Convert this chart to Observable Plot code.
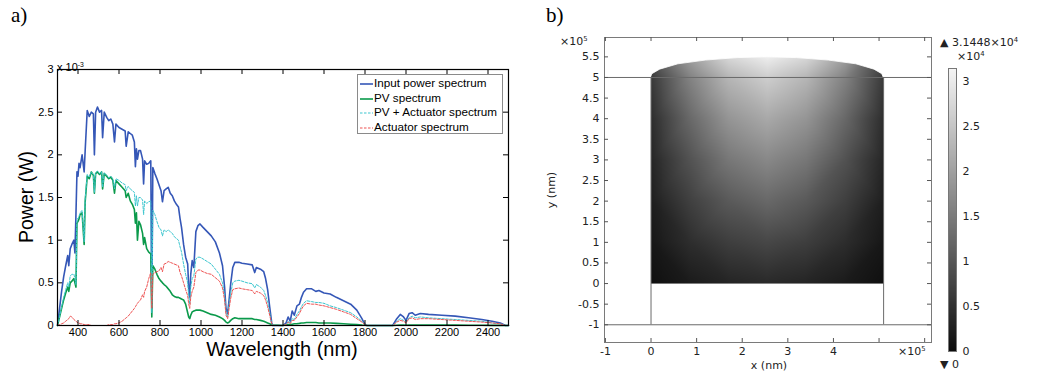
<!DOCTYPE html>
<html><head><meta charset="utf-8">
<script src="https://cdn.jsdelivr.net/npm/d3@7"></script>
<script src="https://cdn.jsdelivr.net/npm/@observablehq/plot@0.6"></script>
<style>
html,body{margin:0;padding:0;background:#fff}
body{width:1038px;height:376px;position:relative;overflow:hidden;font-family:"Liberation Sans",Arial,sans-serif}
.abs{position:absolute;white-space:nowrap}
.lbA{font-family:"Liberation Sans",Arial,sans-serif;color:#000}
.lbB{font-family:"DejaVu Sans",sans-serif;color:#222;font-size:11px;line-height:12px}
sup{font-size:0.62em;vertical-align:0;position:relative;top:-0.55em}
.legend{position:absolute;left:357px;top:74px;width:144px;height:58px;border:1px solid #8a8a8a;background:#fff;font-family:"Liberation Sans",Arial,sans-serif;font-size:11.7px;color:#000}
.legend div{position:absolute;left:2px;height:14px;line-height:14px}
.legend svg{vertical-align:middle;margin-right:1px}
</style></head><body>
<div id="pa" class="abs" style="left:0;top:0"></div>
<div id="pb" class="abs" style="left:520px;top:0"></div>
<div id="cb" class="abs" style="left:940px;top:60px"></div>
<script>
// ---------- Panel a: spectra (values in units of 10^-3 W) ----------
const wavelength = [
  300,310,320,330,340,350,355,362,370,380,385,
  390,395,400,405,410,420,430,435,445,455,465,475,480,486,
  495,505,515,520,528,540,550,560,570,578,585,600,
  615,630,635,645,655,665,675,680,685,690,697,705,715,720,
  725,735,745,755,760,765,775,785,795,805,812,820,830,
  840,850,860,870,880,890,898,905,915,925,935,940,945,
  950,957,965,975,985,995,1010,1030,1050,
  1070,1090,1105,1115,1122,1130,1137,1145,1155,1165,
  1185,1200,1225,1250,1262,1270,1290,1306,1315,1325,1335,1345,1350,
  1400,1415,1425,1435,1445,1455,1468,1480,1490,1500,
  1515,1540,1560,1575,1600,1630,1660,1695,1730,1760,1785,1800,1810,
  1935,1955,1972,1988,2000,2015,2030,2045,2070,2110,2175,2240,2305,2370,2420,2460,2485,2500
];
const inputPower = [
  0,0.2,0.4,0.57,0.7,0.82,0.7,0.9,0.95,1.0,0.85,
  1.3,1.8,1.75,1.9,1.85,2.0,1.8,2.05,2.52,2.45,2.5,2.48,2.0,2.5,
  2.56,2.5,2.52,2.2,2.5,2.44,2.4,2.42,2.36,2.15,2.36,2.32,
  2.3,2.28,2.1,2.27,2.25,2.23,2.15,1.86,2.07,1.95,2.05,2.05,1.95,1.66,
  1.93,1.89,1.9,1.93,0.2,1.85,1.78,1.72,1.65,1.58,1.45,1.58,1.6,
  1.62,1.55,1.52,1.46,1.42,1.39,1.25,1.15,0.95,0.8,0.72,0.45,0.33,
  0.6,0.76,0.68,1.1,1.17,1.19,1.15,1.1,1.05,
  0.98,0.85,0.7,0.45,0.2,0.14,0.3,0.49,0.68,0.74,
  0.74,0.73,0.72,0.71,0.62,0.68,0.66,0.63,0.55,0.42,0.22,0.03,0,
  0,0.03,0.1,0.05,0.17,0.12,0.23,0.25,0.33,0.39,
  0.43,0.43,0.4,0.41,0.38,0.37,0.33,0.29,0.25,0.18,0.08,0.01,0,
  0,0.08,0.13,0.1,0.06,0.14,0.15,0.12,0.14,0.13,0.12,0.11,0.09,0.07,0.05,0.03,0,0
];
const pvSpectrum = [
  0,0.1,0.2,0.3,0.38,0.45,0.4,0.5,0.52,0.55,0.5,
  0.45,1.2,1.22,1.25,1.3,1.32,0.95,1.45,1.75,1.72,1.8,1.76,1.55,1.78,
  1.8,1.77,1.8,1.6,1.78,1.75,1.72,1.74,1.7,1.55,1.7,1.66,
  1.62,1.58,1.5,1.55,1.46,1.42,1.36,1.2,1.32,1.0,1.22,1.18,1.08,0.95,
  1.03,0.9,0.86,0.84,0.1,0.7,0.66,0.6,0.55,0.52,0.5,0.48,0.46,
  0.43,0.4,0.36,0.34,0.33,0.33,0.32,0.31,0.3,0.25,0.15,0.1,0.08,
  0.12,0.16,0.17,0.18,0.18,0.18,0.17,0.15,0.13,
  0.12,0.1,0.08,0.06,0.04,0.03,0.04,0.06,0.08,0.09,
  0.08,0.08,0.08,0.08,0.07,0.07,0.06,0.05,0.04,0.03,0.02,0.01,0.005,
  0,0.005,0.01,0.01,0.015,0.02,0.02,0.025,0.03,0.03,
  0.035,0.035,0.035,0.03,0.03,0.03,0.025,0.02,0.015,0.01,0.005,0.003,0,
  0,0.003,0.005,0.004,0.003,0.005,0.005,0.004,0.005,0.005,0.004,0.004,0.003,0.003,0.002,0.002,0,0
];
const pvActuatorSpectrum = [
  0,0.1,0.22,0.33,0.42,0.5,0.45,0.58,0.6,0.6,0.55,
  0.48,1.25,1.25,1.28,1.32,1.35,0.98,1.48,1.77,1.74,1.8,1.77,1.56,1.79,
  1.81,1.78,1.8,1.62,1.79,1.76,1.73,1.75,1.72,1.6,1.72,1.7,
  1.67,1.65,1.58,1.63,1.6,1.58,1.56,1.4,1.52,1.4,1.5,1.5,1.47,1.3,
  1.46,1.43,1.45,1.46,0.15,1.35,1.3,1.22,1.15,1.12,1.05,1.12,1.1,
  1.12,1.1,1.08,1.04,1.02,1.0,0.92,0.86,0.72,0.6,0.5,0.35,0.25,
  0.45,0.55,0.58,0.78,0.8,0.8,0.78,0.75,0.72,
  0.66,0.6,0.5,0.35,0.15,0.1,0.25,0.38,0.5,0.52,
  0.53,0.52,0.5,0.49,0.44,0.48,0.45,0.41,0.35,0.27,0.15,0.02,0,
  0,0.01,0.05,0.03,0.08,0.07,0.13,0.17,0.22,0.26,
  0.29,0.28,0.27,0.27,0.26,0.23,0.21,0.18,0.15,0.1,0.05,0.01,0,
  0,0.05,0.08,0.06,0.04,0.09,0.11,0.09,0.1,0.09,0.08,0.07,0.06,0.05,0.03,0.02,0,0
];
const actuatorSpectrum = [
  0,0.01,0.02,0.03,0.05,0.07,0.08,0.11,0.1,0.07,0.06,
  0.05,0.04,0.03,0.03,0.02,0.02,0.01,0.01,0.01,0.01,0,0,0,0,
  0,0,0,0,0,0,0.01,0.01,0.01,0.02,0.02,0.03,
  0.05,0.08,0.09,0.11,0.14,0.17,0.2,0.22,0.24,0.26,0.28,0.3,0.36,0.33,
  0.4,0.45,0.55,0.62,0.2,0.6,0.62,0.63,0.64,0.68,0.63,0.72,0.73,
  0.75,0.74,0.73,0.72,0.71,0.7,0.62,0.58,0.5,0.42,0.35,0.25,0.2,
  0.33,0.4,0.45,0.62,0.65,0.65,0.63,0.61,0.6,
  0.56,0.52,0.44,0.3,0.12,0.08,0.2,0.32,0.42,0.43,
  0.44,0.43,0.42,0.41,0.37,0.4,0.38,0.35,0.3,0.22,0.12,0.02,0,
  0,0.01,0.04,0.02,0.06,0.06,0.1,0.14,0.19,0.23,
  0.26,0.25,0.25,0.24,0.23,0.21,0.19,0.16,0.13,0.08,0.04,0.01,0,
  0,0.04,0.06,0.05,0.03,0.08,0.09,0.07,0.08,0.08,0.07,0.06,0.05,0.04,0.03,0.02,0,0
];
const seriesNames = ["Input power spectrum","PV spectrum","PV + Actuator spectrum","Actuator spectrum"];
const seriesColors = ["#3557b7","#0b9a4b","#3cc6cf","#ee5252"];
const xTicksA = [400,600,800,1000,1200,1400,1600,1800,2000,2200,2400];
const yTicksA = [0,0.5,1,1.5,2,2.5,3];

// ---------- Panel b: 2D field (x, y in 10^5 nm; values in 10^4) ----------
const fieldX = [0,0.85,1.7,2.55,3.4,4.25,5.1];
const fieldY = [0,1,2,3,4,5,5.55];
const fieldValue = [
  [0.05,0.2,0.33,0.4,0.33,0.2,0.05],
  [0.15,0.45,0.68,0.8,0.68,0.45,0.15],
  [0.25,0.7,1.05,1.25,1.05,0.7,0.25],
  [0.35,0.95,1.45,1.68,1.45,0.95,0.35],
  [0.45,1.25,1.85,2.12,1.85,1.25,0.45],
  [0.62,1.6,2.3,2.62,2.3,1.6,0.62],
  [0.85,2.05,2.8,3.1,2.8,2.05,0.85]
];
const capX = [-0.1,0,0.03,0.2,0.6,1.2,1.9,2.55,3.2,3.9,4.5,4.9,5.07,5.1,5.2];
const capY = [5.0,5.0,5.08,5.19,5.32,5.41,5.47,5.49,5.47,5.41,5.32,5.19,5.08,5.0,5.0];
const blockEdgesX = [0,5.1];
const boundaryLinesY = [5,-1];
const xTicksB = [-1,0,1,2,3,4,5,6];
const xLabelsB = [-1,0,1,2,3,4];
const yTicksB = [-1,-0.5,0,0.5,1,1.5,2,2.5,3,3.5,4,4.5,5,5.5];
const colorMax = 3.1448;
const colorTicks = [0,0.5,1,1.5,2,2.5,3];

// inward frame ticks drawn as short rules; length given in pixels
function frameTicks(xTicks, yTicks, xDom, yDom, pw, ph, px, stroke) {
  const lx = px * (xDom[1] - xDom[0]) / pw, ly = px * (yDom[1] - yDom[0]) / ph;
  return [
    Plot.ruleX(xTicks, {x: d => d, y1: yDom[0], y2: yDom[0] + ly, stroke}),
    Plot.ruleX(xTicks, {x: d => d, y1: yDom[1], y2: yDom[1] - ly, stroke}),
    Plot.ruleY(yTicks, {y: d => d, x1: xDom[0], x2: xDom[0] + lx, stroke}),
    Plot.ruleY(yTicks, {y: d => d, x1: xDom[1], x2: xDom[1] - lx, stroke})
  ];
}

// ---------- draw panel a ----------
const WA = 520, HA = 376, mA = {l:57, t:69, r:12, b:51};
const phA = HA - mA.t - mA.b, pwA = WA - mA.l - mA.r;
const xDomA = [300, 2500], yDomA = [0, 3];
const rows = wavelength.map((w, i) => ({w, input: inputPower[i], pv: pvSpectrum[i], pva: pvActuatorSpectrum[i], act: actuatorSpectrum[i]}));
const chartA = Plot.plot({
  width: WA, height: HA, marginLeft: mA.l, marginTop: mA.t, marginRight: mA.r, marginBottom: mA.b,
  style: {fontFamily: '"Liberation Sans", Arial, sans-serif', fontSize: "11px", color: "#000", background: "transparent"},
  x: {domain: xDomA, label: null},
  y: {domain: yDomA, label: null},
  marks: [
    Plot.line(rows, {x: "w", y: "input", stroke: seriesColors[0], strokeWidth: 1.6}),
    Plot.line(rows, {x: "w", y: "pv", stroke: seriesColors[1], strokeWidth: 1.6}),
    Plot.line(rows, {x: "w", y: "pva", stroke: seriesColors[2], strokeWidth: 1, strokeDasharray: "2.5,1.5"}),
    Plot.line(rows, {x: "w", y: "act", stroke: seriesColors[3], strokeWidth: 1, strokeDasharray: "2.5,1.5"}),
    Plot.frame({stroke: "#000", strokeWidth: 1.2}),
    ...frameTicks(xTicksA, yTicksA, xDomA, yDomA, pwA, phA, 5, "#000"),
    Plot.axisX(xTicksA, {tickSize: 0, tickPadding: 3, tickFormat: d => String(d), label: null}),
    Plot.axisY(yTicksA, {tickSize: 0, tickPadding: 4, tickFormat: d => String(d), label: null})
  ]
});
document.getElementById("pa").append(chartA);

// ---------- draw panel b ----------
const WB = 518, HB = 376, mB = {l:84, t:37, r:107, b:34};
const phB = HB - mB.t - mB.b, pwB = WB - mB.l - mB.r;
const xDomB = [-1.02, 6.15], yDomB = [-1.43, 5.97];
const fieldPoints = [];
fieldY.forEach((y, j) => fieldX.forEach((x, i) => fieldPoints.push({x, y, v: fieldValue[j][i]})));
const cap = capX.map((x, i) => ({x, y: capY[i]}));
const greyScale = {type: "linear", domain: [0, colorMax], range: ["#0c0c0c", "#f5f5f5"]};
const chartB = Plot.plot({
  width: WB, height: HB, marginLeft: mB.l, marginTop: mB.t, marginRight: mB.r, marginBottom: mB.b,
  style: {fontFamily: '"DejaVu Sans", sans-serif', fontSize: "11px", color: "#222", background: "transparent"},
  x: {domain: xDomB, label: null},
  y: {domain: yDomB, label: null},
  color: greyScale,
  marks: [
    Plot.raster(fieldPoints, {x: "x", y: "y", fill: "v", x1: 0, x2: 5.1, y1: 0, y2: 5.55, interpolate: "barycentric"}),
    Plot.areaY(cap, {x: "x", y1: "y", y2: 5.62, fill: "#fff", stroke: "#fff", strokeWidth: 0.8}),
    Plot.ruleY(boundaryLinesY, {stroke: "#6a6a6a", strokeWidth: 1}),
    Plot.ruleX(blockEdgesX, {y1: -1, y2: 5, stroke: "#6a6a6a", strokeWidth: 1}),
    Plot.frame({stroke: "#7a7a7a", strokeWidth: 1}),
    ...frameTicks(xTicksB, yTicksB, xDomB, yDomB, pwB, phB, 4, "#555"),
    Plot.axisX(xLabelsB, {tickSize: 0, tickPadding: 5, tickFormat: d => String(d), label: null}),
    Plot.axisY(yTicksB, {tickSize: 0, tickPadding: 5, tickFormat: d => String(d), label: null})
  ]
});
document.getElementById("pb").append(chartB);

// ---------- colour bar ----------
const chartC = Plot.plot({
  width: 90, height: 300, marginLeft: 8, marginRight: 74, marginTop: 8, marginBottom: 9,
  style: {fontFamily: '"DejaVu Sans", sans-serif', fontSize: "11px", color: "#222", background: "transparent"},
  x: {domain: [0, 1], axis: null},
  y: {domain: [0, colorMax], label: null, axis: null},
  color: greyScale,
  marks: [
    Plot.raster({fill: (x, y) => y, x1: 0, x2: 1, y1: 0, y2: colorMax}),
    Plot.frame({stroke: "#777"}),
    Plot.axisY(colorTicks, {anchor: "right", tickSize: 0, tickPadding: 6, tickFormat: d => String(d), label: null})
  ]
});
document.getElementById("cb").append(chartC);

// ---------- legend (panel a) ----------
const leg = document.createElement("div");
leg.className = "legend";
seriesNames.forEach((name, i) => {
  const d = document.createElement("div");
  d.style.top = (1 + i * 14.7) + "px";
  const dash = i >= 2 ? 'stroke-dasharray="2.5,1.5"' : "";
  d.innerHTML = `<svg width="13" height="4"><line x1="0" y1="2" x2="13" y2="2" stroke="${seriesColors[i]}" stroke-width="${i < 2 ? 1.6 : 1.1}" ${dash}/></svg>${name}`;
  leg.append(d);
});
document.body.append(leg);
</script>

<!-- panel a text -->
<div class="abs" style="left:11px;top:3px;font-family:'Liberation Serif',serif;font-size:21px">a)</div>
<div class="abs lbA" style="left:57px;top:61px;font-size:11px;line-height:12px">x 10<sup>-3</sup></div>
<div class="abs lbA" style="left:26px;top:197px;font-size:19.5px;transform:translate(-50%,-50%) rotate(-90deg)">Power (W)</div>
<div class="abs lbA" style="left:282px;top:349px;font-size:20px;transform:translate(-50%,-50%)">Wavelength (nm)</div>

<!-- panel b text -->
<div class="abs" style="left:546px;top:3px;font-family:'Liberation Serif',serif;font-size:21px">b)</div>
<div class="abs lbB" style="left:560px;top:36px">×10<sup>5</sup></div>
<div class="abs lbB" style="left:552px;top:190px;transform:translate(-50%,-50%) rotate(-90deg)">y (nm)</div>
<div class="abs lbB" style="left:769px;top:366px;transform:translate(-50%,-50%)">x (nm)</div>
<div class="abs lbB" style="left:898px;top:346px">×10<sup>5</sup></div>
<div class="abs lbB" style="left:940px;top:37px">▲ 3.1448×10<sup>4</sup></div>
<div class="abs lbB" style="left:957px;top:51px">×10<sup>4</sup></div>
<div class="abs lbB" style="left:940px;top:359px">▼ 0</div>
</body></html>
